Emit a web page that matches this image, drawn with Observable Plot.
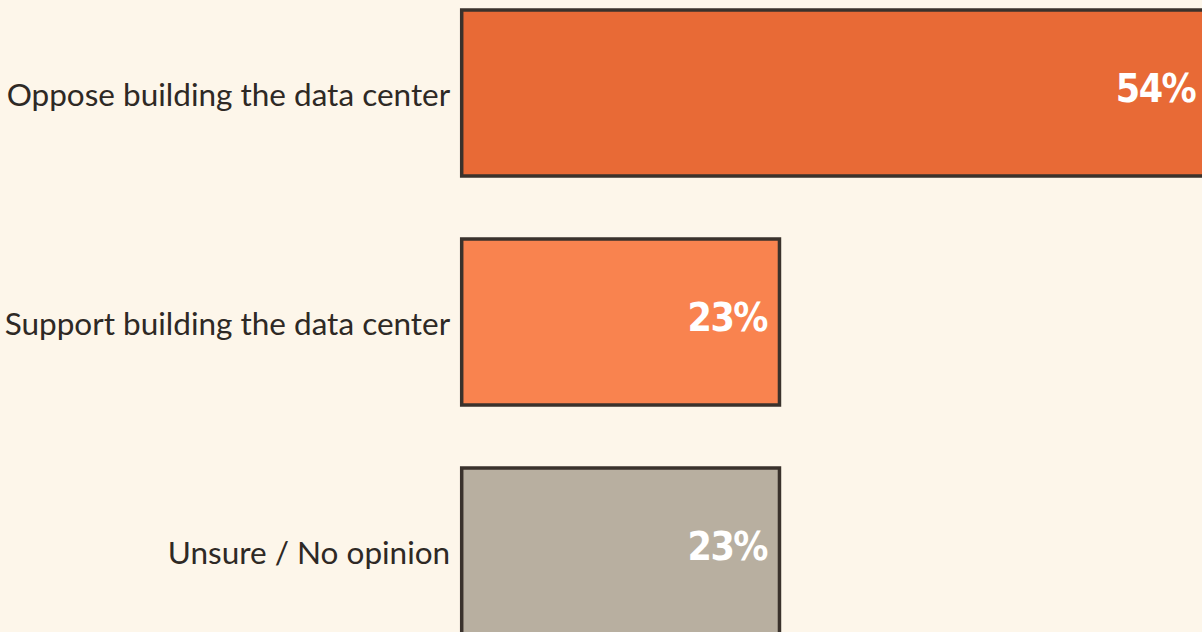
<!DOCTYPE html>
<html><head><meta charset="utf-8">
<script src="https://cdn.jsdelivr.net/npm/d3@7"></script>
<script src="https://cdn.jsdelivr.net/npm/@observablehq/plot@0.6"></script>
<style>
html,body{margin:0;padding:0;background:#fdf6ea;overflow:hidden;width:1202px;height:632px}
#chart svg{display:block;max-width:none !important}
.vlabel{font-stretch:condensed;letter-spacing:-1.5px}
</style></head><body><div id="chart"></div>
<script>
const categories = ["Oppose building the data center", "Support building the data center", "Unsure / No opinion"];
const values = [54, 23, 23];
const valueLabels = ["54%", "23%", "23%"];
const barColors = ["#e86a36", "#f9834f", "#b8afa0"];

const data = categories.map((c, i) => ({category: c, value: values[i], label: valueLabels[i]}));

const plot = Plot.plot({
  width: 1260, height: 640,
  marginLeft: 461.7, marginRight: 0, marginTop: 9.75, marginBottom: 5.65,
  style: {background: "transparent", fontFamily: "Lato", overflow: "visible", maxWidth: "none"},
  x: {domain: [0, 57.78], axis: null},
  y: {domain: categories, paddingInner: 0.276, paddingOuter: 0, axis: null},
  color: {domain: categories, range: barColors},
  marks: [
    Plot.axisY({tickSize: 0, tickPadding: 12, fontSize: 31.5, dy: 2, fill: "#2e2925", label: null}),
    Plot.barX(data, {x: "value", y: "category", fill: "category", stroke: "#3a322c", strokeWidth: 3.5}),
    Plot.text(data, {x: "value", y: "category", text: "label", textAnchor: "end", dx: -13, dy: -4,
      fill: "white", fontSize: 39, fontWeight: "bold", fontFamily: "DejaVu Sans Condensed, DejaVu Sans", className: "vlabel"})
  ]
});
document.getElementById("chart").appendChild(plot);
</script></body></html>
